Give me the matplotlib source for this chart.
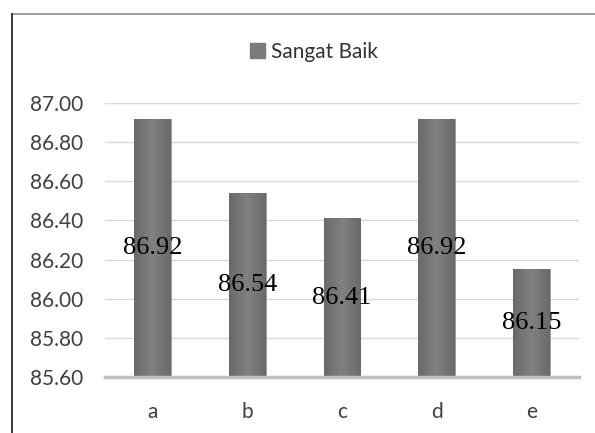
import matplotlib
matplotlib.use("Agg")
import matplotlib.pyplot as plt
import numpy as np
from matplotlib.lines import Line2D
from matplotlib.patches import Patch
from matplotlib.colors import LinearSegmentedColormap

categories = ["a", "b", "c", "d", "e"]
values = [86.92, 86.54, 86.41, 86.92, 86.15]
series_name = "Sangat Baik"
yticks = [85.60, 85.80, 86.00, 86.20, 86.40, 86.60, 86.80, 87.00]

W, H = 595, 433
fig = plt.figure(figsize=(W / 100, H / 100), dpi=100)
ax = fig.add_axes([105 / W, 1 - 377 / H, 474 / W, 274 / H])

bar_color = "#7b7b7b"
x = np.arange(len(categories))
bars = ax.bar(x, values, width=0.39, color=bar_color, edgecolor="#9a9a9a",
              linewidth=0.6, zorder=3)
ax.set_ylim(85.6, 87.0)
ax.set_xlim(-0.5, len(categories) - 0.5)

# soft horizontal shading across each bar
shade = LinearSegmentedColormap.from_list("shade", ["#6a6a6a", "#818181", "#6a6a6a"])
grad = np.linspace(0, 1, 64).reshape(1, -1)
for b in bars:
    x0, w = b.get_x(), b.get_width()
    im = ax.imshow(grad, cmap=shade, aspect="auto", interpolation="bicubic",
                   extent=(x0, x0 + w, 85.6, b.get_height()), zorder=3.5)
    im.set_clip_path(b)
ax.set_xlim(-0.5, len(categories) - 0.5)
ax.set_ylim(85.6, 87.0)

# value labels centred in each bar
for xi, v in zip(x, values):
    ax.text(xi, (85.6 + v) / 2, f"{v:.2f}", ha="center", va="center",
            fontsize=19, family="Liberation Serif", color="#000000", zorder=4)

ax.set_yticks(yticks)
ax.set_yticklabels([f"{t:.2f}" for t in yticks])
ax.set_xticks(list(x))
ax.set_xticklabels(categories)
ax.tick_params(axis="both", length=0, labelsize=15, labelcolor="#404040")
ax.tick_params(axis="y", pad=16)
ax.tick_params(axis="x", pad=18)
for lab in ax.get_xticklabels() + ax.get_yticklabels():
    lab.set_family("Lato")

ax.grid(axis="y", color="#d9d9d9", linewidth=1.0, zorder=0)
for s in ["top", "right", "left"]:
    ax.spines[s].set_visible(False)
ax.spines["bottom"].set_color("#bfbfbf")
ax.spines["bottom"].set_linewidth(2.5)
ax.spines["bottom"].set_zorder(5)

handle = Patch(facecolor=bar_color, edgecolor=bar_color)
fig.legend([handle], [series_name], loc="center", bbox_to_anchor=(314 / W, 1 - 52 / H),
           frameon=False, prop={"family": "Lato", "size": 15},
           handlelength=0.7, handleheight=0.7, handletextpad=0.3,
           labelcolor="#333333")

# chart frame (top and left edges)
fig.add_artist(Line2D([12 / W, 1.0], [1 - 14 / H, 1 - 14 / H], color="#8c8c8c",
                      linewidth=1.2, transform=fig.transFigure))
fig.add_artist(Line2D([12 / W, 12 / W], [0, 1 - 14 / H], color="#1a1a1a",
                      linewidth=1.2, transform=fig.transFigure))

fig.savefig("out.png", dpi=100, facecolor="white")
